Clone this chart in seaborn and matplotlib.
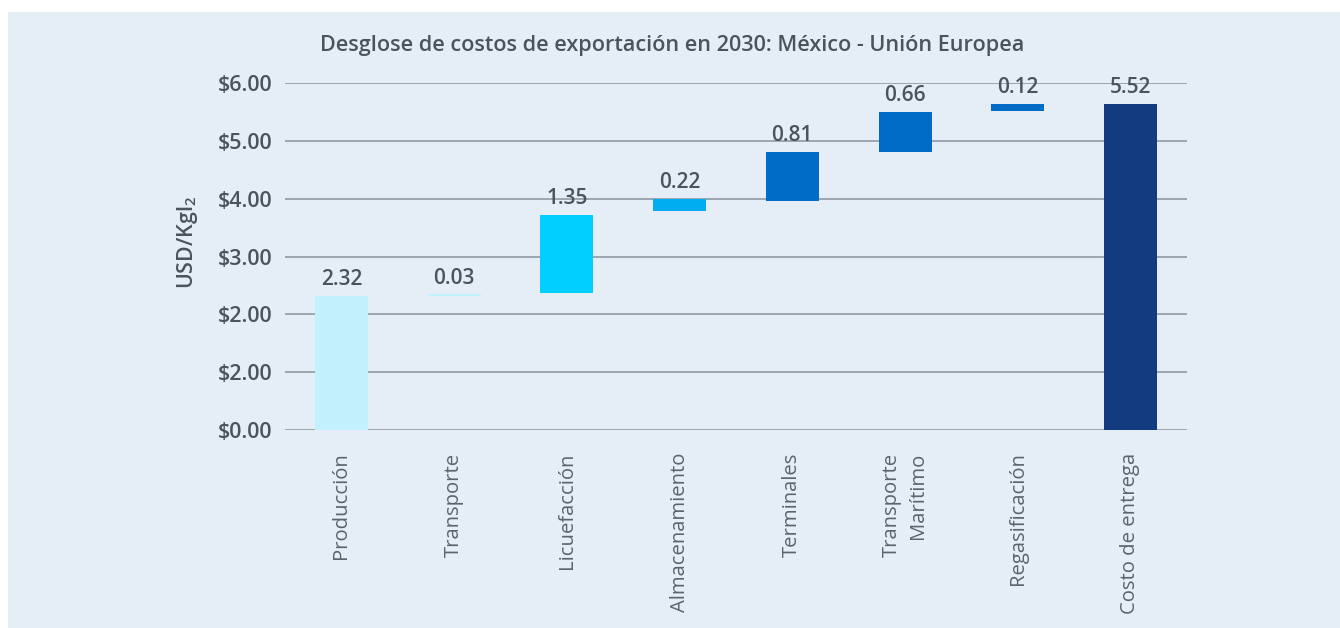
import matplotlib
matplotlib.use("Agg")
import matplotlib.pyplot as plt
import seaborn as sns
import pandas as pd
from matplotlib.patches import Rectangle

# datos
categorias = ["Producción", "Transporte", "Licuefacción", "Almacenamiento",
              "Terminales", "Transporte\nMarítimo", "Regasificación", "Costo de entrega"]
valores = [2.32, 0.03, 1.35, 0.22, 0.81, 0.66, 0.12, 5.52]
inicio = [0.00, 2.32, 2.37, 3.78, 3.96, 4.81, 5.52, 0.00]
fin = [2.32, 2.35, 3.72, 4.00, 4.81, 5.50, 5.64, 5.64]
colores = ["#c2f0fd", "#c2f0fd", "#00cfff", "#00aef0",
           "#006cc8", "#006cc8", "#006cc8", "#123c7f"]
y_ticks = [0, 1, 2, 3, 4, 5, 6]
y_tick_labels = ["\\$0.00", "\\$2.00", "\\$2.00", "\\$3.00", "\\$4.00", "\\$5.00", "\\$6.00"]

fondo = "#e5edf6"
gris = "#4b535e"

sns.set_style("white")
plt.rcParams["font.family"] = ["Open Sans", "DejaVu Sans"]
plt.rcParams["mathtext.default"] = "regular"

df = pd.DataFrame({"categoria": categorias, "valor": valores,
                   "inicio": inicio, "fin": fin})
df["altura"] = df["fin"] - df["inicio"]

fig = plt.figure(figsize=(13.4, 6.28), dpi=100, facecolor="white")
fig.patches.append(Rectangle((8 / 1340, 0), 1, 1 - 12 / 628, transform=fig.transFigure,
                             facecolor=fondo, edgecolor="none", zorder=-5))
ax = fig.add_axes([0.2127, 0.315, 0.673, 0.553])
ax.set_facecolor(fondo)

sns.barplot(data=df, x="categoria", y="altura", hue="categoria", palette=colores,
            width=0.47, legend=False, ax=ax, saturation=1, zorder=3)

# mover cada barra a su base (cascada)
for barra, base in zip(ax.patches, df["inicio"]):
    barra.set_y(base)
    barra.set_edgecolor("none")

for i, (v, top) in enumerate(zip(df["valor"], df["fin"])):
    ax.annotate(f"{v:.2f}", (i, top), xytext=(0, 4), textcoords="offset points",
                ha="center", va="bottom", fontsize=15, fontweight="semibold", color=gris)

ax.set_ylim(0, 6)
ax.set_xlim(-0.5, 7.5)
ax.set_yticks(y_ticks)
ax.set_yticklabels(y_tick_labels, fontsize=15.5, fontweight="semibold", color=gris)
ax.set_xticks(range(len(categorias)))
ax.set_xticklabels(categorias, rotation=90, fontsize=14.6, color="#5a636f", linespacing=1.45)
for lab in ax.get_xticklabels():
    lab.set_multialignment("right")
ax.tick_params(axis="x", length=0, pad=16)
ax.tick_params(axis="y", length=0, pad=9)

ax.yaxis.grid(True, color="#9ba6b1", linewidth=1.4)
ax.set_axisbelow(True)
sns.despine(ax=ax, left=True, bottom=True)

ax.set_xlabel("")
ax.set_ylabel("USD/Kgl$_2$", fontsize=15.4, fontweight="semibold", color=gris)
ax.yaxis.set_label_coords(-0.094, 0.54)

fig.text(0.5015, 0.928, "Desglose de costos de exportación en 2030: México - Unión Europea",
         ha="center", va="center", fontsize=15.6, fontweight="semibold", color=gris)

fig.savefig("out.png", dpi=100, facecolor="white")
